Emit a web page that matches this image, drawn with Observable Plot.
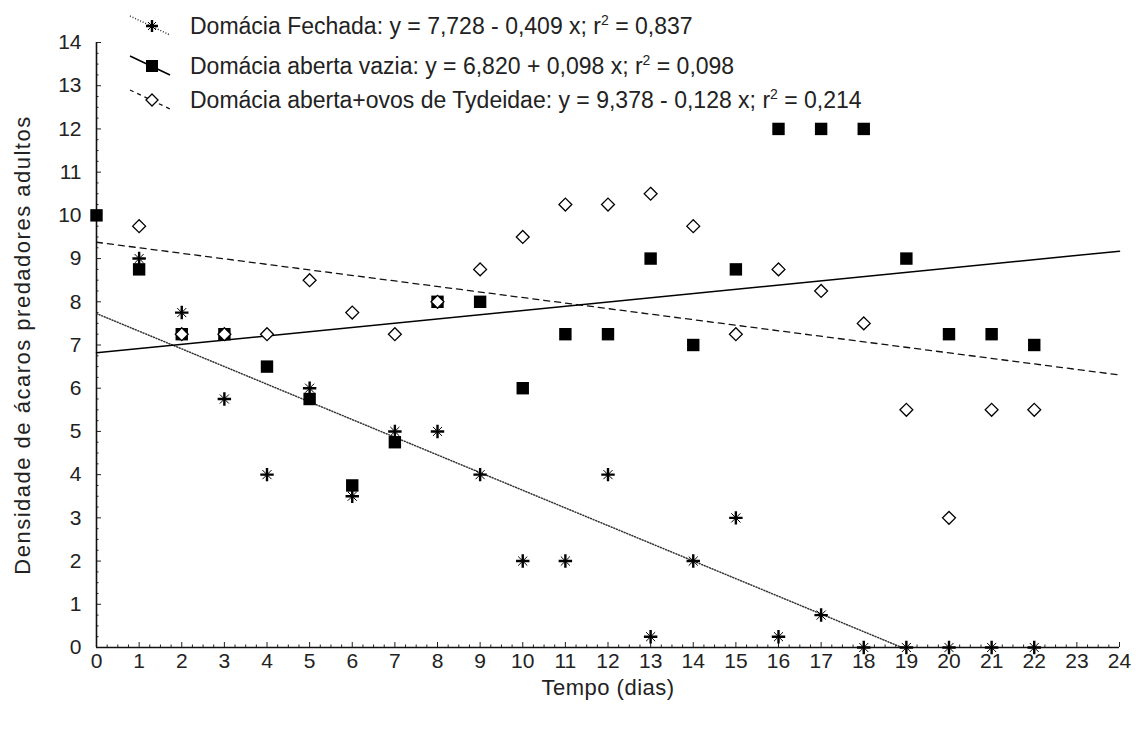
<!DOCTYPE html>
<html><head><meta charset="utf-8">
<script src="https://cdn.jsdelivr.net/npm/d3@7"></script>
<script src="https://cdn.jsdelivr.net/npm/@observablehq/plot@0.6"></script>
<style>
body{margin:0;background:#fff;font-family:"Liberation Sans",Arial,sans-serif;}
#wrap{position:relative;width:1143px;height:731px;}
.row{position:absolute;left:190px;height:30px;line-height:30px;font-size:23px;color:#222;white-space:nowrap;}
.row sup{font-size:14px;vertical-align:0;position:relative;top:-9px;}
.icon{position:absolute;left:128px;}
</style></head><body><div id="wrap"></div>
<script>
// Data
const series = ["Domácia Fechada", "Domácia aberta vazia", "Domácia aberta+ovos de Tydeidae"];
const intercepts = [7.728, 6.820, 9.378];
const slopes = [-0.409, 0.098, -0.128];
const r2 = [0.837, 0.098, 0.214];

const fechadaDias = [1,2,3,4,5,6,7,8,9,10,11,12,13,14,15,16,17,18,19,20,21,22];
const fechada     = [9,7.75,5.75,4,6,3.5,5,5,4,2,2,4,0.25,2,3,0.25,0.75,0,0,0,0,0];

const vaziaDias = [0,1,2,3,4,5,6,7,8,9,10,11,12,13,14,15,16,17,18,19,20,21,22];
const vazia     = [10,8.75,7.25,7.25,6.5,5.75,3.75,4.75,8,8,6,7.25,7.25,9,7,8.75,12,12,12,9,7.25,7.25,7];

const ovosDias = [1,2,3,4,5,6,7,8,9,10,11,12,13,14,15,16,17,18,19,20,21,22];
const ovos     = [9.75,7.25,7.25,7.25,8.5,7.75,7.25,8,8.75,9.5,10.25,10.25,10.5,9.75,7.25,8.75,8.25,7.5,5.5,3,5.5,5.5];

const xTicks = d3.range(0, 25);
const yTicks = d3.range(0, 15);
const xMinor = d3.range(0, 97).map(i => i / 4).filter(v => v % 1 !== 0);
const yMinor = d3.range(0, 57).map(i => i / 4).filter(v => v % 1 !== 0);

const xLabel = "Tempo (dias)";
const yLabel = "Densidade de ácaros predadores adultos";

// Regression lines from the legend equations
const xMax = 24;
function regLine(i) {
  const a = intercepts[i], b = slopes[i];
  let xEnd = xMax;
  if (a + b * xMax < 0) xEnd = -a / b;
  return [{x: 0, y: a}, {x: xEnd, y: a + b * xEnd}];
}
const lineStyles = [
  {stroke: "#333", strokeWidth: 1.5, strokeDasharray: "1,1.8"},
  {stroke: "#000", strokeWidth: 1.5},
  {stroke: "#111", strokeWidth: 1.3, strokeDasharray: "6,5"}
];

const fData = fechadaDias.map((d, i) => ({x: d, y: fechada[i]}));
const vData = vaziaDias.map((d, i) => ({x: d, y: vazia[i]}));
const oData = ovosDias.map((d, i) => ({x: d, y: ovos[i]}));

const chart = Plot.plot({
  width: 1143, height: 731,
  marginLeft: 96, marginRight: 24, marginTop: 42, marginBottom: 84,
  x: {domain: [0, 24]},
  y: {domain: [0, 14]},
  style: {fontFamily: "Liberation Sans, Arial, sans-serif", fontSize: "21px", color: "#222", background: "white"},
  marks: [
    Plot.axisX(xMinor, {tickSize: 2.5, dy: -2.5, tickFormat: () => "", label: null, stroke: "#222"}),
    Plot.axisX(xTicks, {tickSize: 5, dy: -5, tickPadding: 6, label: null, fontSize: 21, stroke: "#222"}),
    Plot.axisY(yMinor, {tickSize: 2.5, dx: 2.5, tickFormat: () => "", label: null, stroke: "#222"}),
    Plot.axisY(yTicks, {tickSize: 5, dx: 5, tickPadding: 15, label: null, fontSize: 21, stroke: "#222"}),
    Plot.ruleX([0], {stroke: "#111", strokeWidth: 1.6}),
    Plot.ruleY([0], {stroke: "#111", strokeWidth: 1.6}),
    ...[0, 1, 2].map(i => Plot.line(regLine(i), {x: "x", y: "y", ...lineStyles[i]})),
    Plot.dot(vData, {x: "x", y: "y", symbol: "square", r: 7, fill: "#000", stroke: "none"}),
    Plot.dot(oData, {x: "x", y: "y", symbol: "diamond2", r: 5.8, fill: "white", stroke: "#000", strokeWidth: 1.3}),
    Plot.dot(fData, {x: "x", y: "y", symbol: "plus", r: 4.4, stroke: "#000", strokeWidth: 2.4}),
    Plot.dot(fData, {x: "x", y: "y", symbol: "times", r: 4.2, stroke: "#000", strokeWidth: 1}),
    Plot.text([xLabel], {frameAnchor: "bottom", dy: 47, fontSize: 22, fill: "#222"}),
    Plot.text([yLabel], {frameAnchor: "left", rotate: -90, dx: -74, textAnchor: "middle", fontSize: 22, fill: "#222"})
  ]
});
chart.querySelectorAll("text").forEach(t => {
  if (t.textContent === yLabel) t.style.letterSpacing = "1.5px";
  if (t.textContent === xLabel) t.style.letterSpacing = "0.5px";
});
const wrap = document.getElementById("wrap");
wrap.appendChild(chart);

// Legend (HTML overlay)
const fmt = v => v.toFixed(3).replace(".", ",");
const rowCenters = [26, 66, 100];
const ns = "http://www.w3.org/2000/svg";
series.forEach((name, i) => {
  const b = slopes[i];
  const txt = `${name}: y = ${fmt(intercepts[i])} ${b < 0 ? "-" : "+"} ${fmt(Math.abs(b))} x; r<sup>2</sup> = ${fmt(r2[i])}`;
  const row = document.createElement("div");
  row.className = "row";
  row.style.top = (rowCenters[i] - 15) + "px";
  row.innerHTML = txt;
  wrap.appendChild(row);
  const svg = document.createElementNS(ns, "svg");
  svg.setAttribute("class", "icon");
  svg.setAttribute("width", 48); svg.setAttribute("height", 26);
  svg.style.top = (rowCenters[i] - 13) + "px";
  const ln = document.createElementNS(ns, "line");
  ln.setAttribute("x1", 2); ln.setAttribute("y1", 3); ln.setAttribute("x2", 42); ln.setAttribute("y2", 22);
  const st = lineStyles[i];
  ln.setAttribute("stroke", st.stroke); ln.setAttribute("stroke-width", st.strokeWidth);
  if (st.strokeDasharray) ln.setAttribute("stroke-dasharray", i === 2 ? "4,4" : st.strokeDasharray);
  svg.appendChild(ln);
  const g = document.createElementNS(ns, "g");
  g.setAttribute("transform", "translate(24,13)");
  if (i === 0) {
    g.innerHTML = '<path d="M-6,0H6M0,-6V6" stroke="#000" stroke-width="2.4"/><path d="M-4,-4L4,4M-4,4L4,-4" stroke="#000" stroke-width="1"/>';
  } else if (i === 1) {
    g.innerHTML = '<rect x="-6" y="-6" width="12" height="12" fill="#000"/>';
  } else {
    g.innerHTML = '<path d="M0,-6L6,0L0,6L-6,0Z" fill="white" stroke="#000" stroke-width="1.3"/>';
  }
  svg.appendChild(g);
  wrap.appendChild(svg);
});
</script>
</body></html>
